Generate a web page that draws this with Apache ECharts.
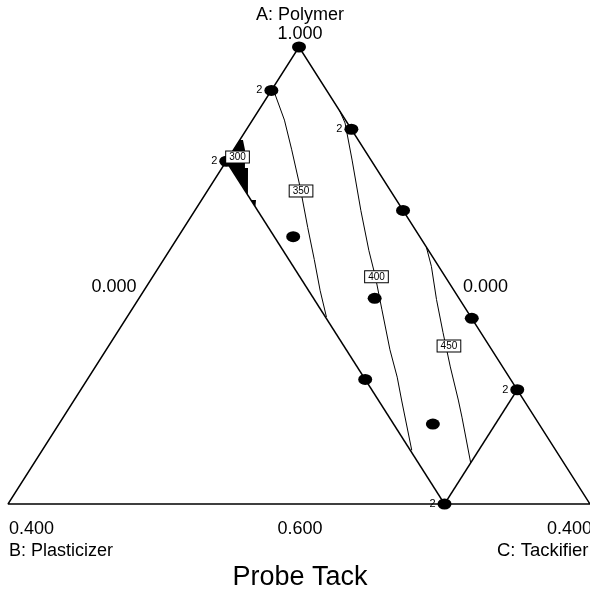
<!DOCTYPE html>
<html>
<head>
<meta charset="utf-8">
<script src="https://cdn.jsdelivr.net/npm/echarts@6/dist/echarts.min.js"></script>
<style>
  html, body { margin: 0; padding: 0; background: #fff; }
  #chart { width: 590px; height: 599px; }
</style>
</head>
<body>
<div id="chart"></div>
<script>
// Mixture components and the ranges shown on the simplex
const componentNames = ['A: Polymer', 'B: Plasticizer', 'C: Tackifier'];
const vertexTicks = ['1.000', '0.400', '0.400'];   // top, left, right vertices
const edgeTicks = ['0.000', '0.600', '0.000'];     // left edge (C), bottom (A), right edge (B)
const responseName = 'Probe Tack';

// Display simplex: A from 0.6 to 1.0, B and C up to 0.4
const A_LOW = 0.6;
const SPAN = 0.4;

// Outer triangle and the constraint boundaries (B <= 0.1, C <= 0.3), as [A, B, C]
const outerTriangle = [[1, 0, 0], [0.6, 0.4, 0], [0.6, 0, 0.4], [1, 0, 0]];
const limitB = [[0.9, 0.1, 0], [0.6, 0.1, 0.3]];
const limitC = [[0.6, 0.1, 0.3], [0.7, 0, 0.3]];

// Design points [A, B, C] and their replicate counts
const designPoints = [
  [1.000, 0.000, 0.000],
  [0.962, 0.038, 0.000],
  [0.900, 0.100, 0.000],
  [0.928, 0.000, 0.072],
  [0.857, 0.000, 0.143],
  [0.7625, 0.000, 0.2375],
  [0.700, 0.000, 0.300],
  [0.600, 0.100, 0.300],
  [0.834, 0.087, 0.079],
  [0.780, 0.058, 0.162],
  [0.709, 0.100, 0.191],
  [0.670, 0.073, 0.257]
];
const replicates = [1, 2, 2, 2, 1, 1, 2, 2, 1, 1, 1, 1];

// Probe Tack contours, as [A, B, C]
const contourLevels = [350, 400, 450];
const contour350 = [
  [0.964, 0.036, 0.000], [0.936, 0.042, 0.022], [0.910, 0.050, 0.040],
  [0.8775, 0.0605, 0.062], [0.842, 0.073, 0.085], [0.814, 0.083, 0.1035],
  [0.787, 0.092, 0.121], [0.7637, 0.0993, 0.137]
];
const contour400 = [
  [0.944, 0.000, 0.056], [0.9335, 0.0016, 0.0649], [0.901, 0.013, 0.086],
  [0.857, 0.029, 0.114], [0.822, 0.041, 0.137], [0.799, 0.048, 0.153],
  [0.770, 0.058, 0.172], [0.735, 0.070, 0.195], [0.711, 0.077, 0.212],
  [0.691, 0.084, 0.225], [0.647, 0.099, 0.254]
];
const contour450 = [
  [0.825, 0.000, 0.175], [0.808, 0.005, 0.187], [0.779, 0.016, 0.205],
  [0.750, 0.026, 0.224], [0.720, 0.036, 0.244], [0.691, 0.045, 0.264],
  [0.676, 0.050, 0.274], [0.636, 0.064, 0.300]
];
const contours = [contour350, contour400, contour450];

// Region below the 300 contour near the A-B edge
const region300 = [
  [[0.9186, 0.0814, 0.000], [0.9186, 0.0792, 0.0022], [0.9098, 0.0822, 0.008],
   [0.8941, 0.0901, 0.0158], [0.8941, 0.088, 0.0179], [0.8706, 0.0998, 0.0296],
   [0.900, 0.100, 0.000]],
  [[0.8661, 0.100, 0.0339], [0.8661, 0.0965, 0.0374], [0.860, 0.100, 0.040]]
];

// Contour label anchors [A, B, C] and their levels
const contourLabelLevels = [300, 350, 400, 450];
const contourLabelAt = [
  [0.9037, 0.0904, 0.0059],
  [0.874, 0.0616, 0.0644],
  [0.7989, 0.0473, 0.1538],
  [0.7383, 0.0278, 0.2339]
];

// Composition -> cartesian position inside the unit box used by the axes
function toXY(p) {
  const a = (p[0] - A_LOW) / SPAN;
  const c = p[2] / SPAN;
  return [c + a / 2, a];
}

const chart = echarts.init(document.getElementById('chart'), null, { renderer: 'canvas' });

const FONT = 'Liberation Sans, Arial, sans-serif';
const black = '#000';

function lineSeries(points, width) {
  return {
    type: 'line',
    data: points.map(toXY),
    showSymbol: false,
    symbol: 'none',
    clip: false,
    silent: true,
    lineStyle: { color: black, width: width, opacity: 1 },
    z: 3
  };
}

const series = [];

// 300 region fill
series.push({
  type: 'custom',
  coordinateSystem: 'cartesian2d',
  clip: false,
  silent: true,
  data: region300.map((poly, i) => ({ value: toXY(poly[0]).concat([i]) })),
  encode: { x: 0, y: 1 },
  renderItem: function (params, api) {
    const poly = region300[api.value(2)];
    return {
      type: 'polygon',
      shape: { points: poly.map(p => api.coord(toXY(p))) },
      style: { fill: black, stroke: null }
    };
  },
  z: 2
});

// Contours
contours.forEach(c => series.push(lineSeries(c, 1)));

// Simplex outline and constraint boundaries
series.push(lineSeries(outerTriangle, 1.4));
series.push(lineSeries(limitB, 1.4));
series.push(lineSeries(limitC, 1.4));

// Design points
series.push({
  type: 'scatter',
  clip: false,
  silent: true,
  symbol: 'circle',
  symbolSize: [14, 11],
  itemStyle: { color: black, opacity: 1 },
  data: designPoints.map((p, i) => ({
    value: toXY(p),
    label: {
      show: replicates[i] > 1,
      formatter: String(replicates[i]),
      position: 'left',
      distance: 2,
      color: black,
      fontFamily: FONT,
      fontSize: 11
    }
  })),
  z: 5
});

// Contour level labels
series.push({
  type: 'scatter',
  clip: false,
  silent: true,
  symbolSize: 0,
  itemStyle: { opacity: 1 },
  data: contourLabelAt.map(p => toXY(p)),
  label: {
    show: true,
    position: 'inside',
    formatter: params => String(contourLabelLevels[params.dataIndex]),
    color: black,
    fontFamily: FONT,
    fontSize: 10,
    lineHeight: 10,
    backgroundColor: '#fff',
    borderColor: black,
    borderWidth: 1,
    padding: [1, 3, 0, 3]
  },
  z: 6
});

function text(str, x, y, size, align) {
  return {
    type: 'text',
    x: x,
    y: y,
    silent: true,
    style: {
      text: str,
      fill: black,
      font: size + 'px ' + FONT,
      align: align || 'center',
      verticalAlign: 'middle'
    }
  };
}

chart.setOption({
  animation: false,
  backgroundColor: '#fff',
  grid: { left: 8, top: 47, width: 582, height: 457, show: false },
  xAxis: { type: 'value', min: 0, max: 1, show: false },
  yAxis: { type: 'value', min: 0, max: 1, show: false },
  series: series,
  graphic: [
    text(componentNames[0], 300, 15, 18),
    text(vertexTicks[0], 300, 34, 18),
    text(edgeTicks[0], 114, 287, 18),
    text(edgeTicks[2], 485.5, 287, 18),
    text(vertexTicks[1], 9, 529, 18, 'left'),
    text(componentNames[1], 9, 551, 18, 'left'),
    text(edgeTicks[1], 300, 529, 18),
    text(vertexTicks[2], 547, 529, 18, 'left'),
    text(componentNames[2], 497, 551, 18.5, 'left'),
    text(responseName, 300, 578, 27)
  ]
});
</script>
</body>
</html>
